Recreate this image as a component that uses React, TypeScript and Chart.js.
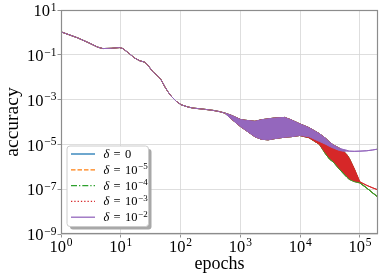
import React, { useEffect, useRef } from 'react';
import { Chart, registerables } from 'chart.js';

Chart.register(...registerables);

// ---------- data ----------
// shared early part of the training curve (all δ identical)
const earlyEpochs = [1, 1.9, 2.8, 4.1, 5, 6.9, 9.5, 10.8, 13, 17, 20.5, 25, 28, 34, 42, 47, 54, 61, 70, 85, 102, 132, 160, 250, 350, 450];
const earlyAcc = [1.06, 0.57, 0.36, 0.22, 0.19, 0.195, 0.21, 0.19, 0.13, 0.072, 0.055, 0.047, 0.036, 0.018, 0.011, 0.0078, 0.0039, 0.0023, 0.0014, 8.3e-4, 5.9e-4, 4.7e-4, 4.2e-4, 3.7e-4, 3.3e-4, 2.9e-4];

// oscillating phase: upper / lower envelopes
const bandEpochs = [550, 700, 1000, 1200, 1750, 2250, 2900, 3700, 5500, 7000, 9800, 14000, 21000, 27000, 31000, 36000, 45000, 52000, 60000, 66000, 80000, 100000, 130000, 160000, 200000];

// δ = 1e-2
const upperLarge = [2.5e-4, 2.0e-4, 1.3e-4, 1.2e-4, 1.07e-4, 1.26e-4, 1.38e-4, 1.5e-4, 1.6e-4, 1.26e-4, 8.3e-5, 5.6e-5, 3.0e-5, 1.8e-5, 1.26e-5, 9.3e-6, 6.8e-6, 6.0e-6, 5.5e-6, 5.0e-6, 4.9e-6, 5.0e-6, 5.2e-6, 5.6e-6, 6.2e-6];
const lowerLarge = [2.5e-4, 1.4e-4, 6.3e-5, 4.5e-5, 2.2e-5, 1.7e-5, 1.6e-5, 1.8e-5, 2.1e-5, 2.2e-5, 2.5e-5, 2.2e-5, 1.35e-5, 1.0e-5, 8.1e-6, 6.8e-6, 5.4e-6, 5.0e-6, 5.0e-6, 5.0e-6, 4.9e-6, 5.0e-6, 5.2e-6, 5.6e-6, 6.2e-6];

// δ = 1e-3
const upperMid = [2.5e-4, 2.0e-4, 1.3e-4, 1.2e-4, 1.07e-4, 1.26e-4, 1.38e-4, 1.5e-4, 1.6e-4, 1.26e-4, 8.3e-5, 5.6e-5, 3.0e-5, 1.8e-5, 1.26e-5, 9.3e-6, 6.8e-6, 5.2e-6, 3.5e-6, 2.4e-6, 8.5e-7, 2.1e-7, 1.48e-7, 1.17e-7, 9.3e-8];
const lowerMid = [2.5e-4, 1.4e-4, 6.3e-5, 4.5e-5, 2.2e-5, 1.7e-5, 1.6e-5, 1.8e-5, 2.1e-5, 2.2e-5, 2.5e-5, 2.0e-5, 1.0e-5, 4.0e-6, 2.5e-6, 1.8e-6, 8.9e-7, 6.0e-7, 4.0e-7, 3.0e-7, 2.4e-7, 2.1e-7, 1.48e-7, 1.17e-7, 9.3e-8];

// δ = 0, 1e-5, 1e-4 (overlapping)
const upperSmall = [2.5e-4, 2.0e-4, 1.3e-4, 1.2e-4, 1.07e-4, 1.26e-4, 1.38e-4, 1.5e-4, 1.6e-4, 1.26e-4, 8.3e-5, 5.6e-5, 3.0e-5, 1.8e-5, 1.26e-5, 9.3e-6, 6.8e-6, 5.2e-6, 3.5e-6, 2.4e-6, 7.9e-7, 1.9e-7, 1.12e-7, 7.1e-8, 4.4e-8];
const lowerSmall = [2.5e-4, 1.4e-4, 6.3e-5, 4.5e-5, 2.2e-5, 1.7e-5, 1.6e-5, 1.8e-5, 2.1e-5, 2.2e-5, 2.5e-5, 2.0e-5, 1.0e-5, 3.5e-6, 2.2e-6, 1.6e-6, 7.9e-7, 5.2e-7, 3.5e-7, 2.75e-7, 2.2e-7, 1.9e-7, 1.12e-7, 7.1e-8, 4.4e-8];

const deltaExponents: (number | null)[] = [null, -5, -4, -3, -2];
const seriesUpper = [upperSmall, upperSmall, upperSmall, upperMid, upperLarge];
const seriesLower = [lowerSmall, lowerSmall, lowerSmall, lowerMid, lowerLarge];

const xTickExponents = [0, 1, 2, 3, 4, 5];
const yTickExponents = [1, -1, -3, -5, -7, -9];

// ---------- styles ----------
const colors = ['#1f77b4', '#ff7f0e', '#2ca02c', '#d62728', '#9467bd'];
const legendDash = [[], [4.5, 2], [6, 2, 1.3, 2], [1.3, 2], []];
const SERIF = "'Liberation Serif', 'DejaVu Serif', serif";

function buildDatasets() {
  const ds: any[] = [];
  for (let i = 0; i < 5; i++) {
    const up = seriesUpper[i];
    const lo = seriesLower[i];
    const e = deltaExponents[i];
    ds.push({
      label: e === null ? 'δ = 0' : `δ = 10^${e}`,
      data: [
        ...earlyEpochs.map((x, j) => ({ x, y: earlyAcc[j] })),
        ...bandEpochs.map((x, j) => ({ x, y: up[j] })),
      ],
      borderColor: colors[i],
      borderWidth: 1,
      pointRadius: 0,
      fill: false,
      order: 4 - i,
    });
    ds.push({
      label: '',
      data: bandEpochs.map((x, j) => ({ x, y: lo[j] })),
      borderColor: colors[i],
      backgroundColor: colors[i],
      borderWidth: 1,
      pointRadius: 0,
      fill: '-1',
      order: 4 - i,
    });
  }
  return ds;
}

function expText(e: number) {
  return e < 0 ? '\u2212' + String(-e) : String(e);
}

function drawPower(ctx: CanvasRenderingContext2D, e: number, x: number, baseline: number, align: 'right' | 'center', big: number, small: number, raise: number) {
  const es = expText(e);
  ctx.font = `${big}px ${SERIF}`;
  const w1 = ctx.measureText('10').width;
  ctx.font = `${small}px ${SERIF}`;
  const w2 = ctx.measureText(es).width;
  const gap = 0.8;
  const total = w1 + gap + w2;
  const x0 = align === 'right' ? x - total : x - total / 2;
  ctx.textAlign = 'left';
  ctx.textBaseline = 'alphabetic';
  ctx.font = `${big}px ${SERIF}`;
  ctx.fillText('10', x0, baseline);
  ctx.font = `${small}px ${SERIF}`;
  ctx.fillText(es, x0 + w1 + gap, baseline - raise);
}

function roundRect(ctx: CanvasRenderingContext2D, x: number, y: number, w: number, h: number, r: number) {
  ctx.beginPath();
  ctx.moveTo(x + r, y);
  ctx.lineTo(x + w - r, y);
  ctx.quadraticCurveTo(x + w, y, x + w, y + r);
  ctx.lineTo(x + w, y + h - r);
  ctx.quadraticCurveTo(x + w, y + h, x + w - r, y + h);
  ctx.lineTo(x + r, y + h);
  ctx.quadraticCurveTo(x, y + h, x, y + h - r);
  ctx.lineTo(x, y + r);
  ctx.quadraticCurveTo(x, y, x + r, y);
  ctx.closePath();
}

const decorPlugin = {
  id: 'decor',
  afterDraw(chart: any) {
    const { ctx, chartArea: ca, scales } = chart;
    ctx.save();
    // frame
    ctx.strokeStyle = '#8c8c8c';
    ctx.lineWidth = 1.2;
    ctx.strokeRect(ca.left + 0.5, ca.top + 0.5, ca.right - ca.left - 1, ca.bottom - ca.top - 1);

    ctx.fillStyle = '#000';
    // y tick labels
    for (const e of yTickExponents) {
      const y = scales.y.getPixelForValue(Math.pow(10, e));
      drawPower(ctx, e, ca.left - 4.5, y + 6.2, 'right', 16.5, 11.5, 5.5);
    }
    // x tick labels
    for (const e of xTickExponents) {
      const x = scales.x.getPixelForValue(Math.pow(10, e));
      drawPower(ctx, e, x, ca.bottom + 17.5, 'center', 16.5, 11.5, 5.5);
    }
    // axis titles
    ctx.font = `18px ${SERIF}`;
    ctx.textAlign = 'center';
    ctx.textBaseline = 'alphabetic';
    ctx.fillText('epochs', (ca.left + ca.right) / 2, ca.bottom + 35);
    ctx.save();
    ctx.translate(18, (ca.top + ca.bottom) / 2);
    ctx.rotate(-Math.PI / 2);
    ctx.font = `19.5px ${SERIF}`;
    ctx.fillText('accuracy', 0, 0);
    ctx.restore();

    // legend
    const bx = ca.left + 6;
    const bw = 81.5;
    const bh = 80.5;
    const by = ca.bottom - 7.5 - bh;
    ctx.fillStyle = '#a8a8a8';
    roundRect(ctx, bx + 3, by + 3, bw, bh, 3);
    ctx.fill();
    ctx.fillStyle = '#ffffff';
    roundRect(ctx, bx, by, bw, bh, 3);
    ctx.fill();
    ctx.strokeStyle = '#cccccc';
    ctx.lineWidth = 1;
    ctx.stroke();

    for (let i = 0; i < 5; i++) {
      const cy = by + 8 + i * 15.8;
      ctx.save();
      ctx.strokeStyle = colors[i];
      ctx.lineWidth = 1.3;
      ctx.setLineDash(legendDash[i]);
      ctx.beginPath();
      ctx.moveTo(bx + 4, cy);
      ctx.lineTo(bx + 28, cy);
      ctx.stroke();
      ctx.restore();

      ctx.fillStyle = '#000';
      ctx.textAlign = 'left';
      ctx.textBaseline = 'alphabetic';
      const base = cy + 4;
      ctx.font = `italic 12.5px ${SERIF}`;
      ctx.fillText('δ', bx + 36.5, base);
      ctx.font = `12.5px ${SERIF}`;
      ctx.fillText('=', bx + 46.5, base);
      const e = deltaExponents[i];
      if (e === null) {
        ctx.fillText('0', bx + 58, base);
      } else {
        const w1 = ctx.measureText('10').width;
        ctx.fillText('10', bx + 58, base);
        ctx.font = `9px ${SERIF}`;
        ctx.fillText(expText(e), bx + 58 + w1 + 0.6, base - 4.5);
      }
    }
    ctx.restore();
  },
};

export default function App() {
  const ref = useRef<HTMLCanvasElement>(null);
  useEffect(() => {
    const gridOpts = {
      color: '#d6d6d6',
      lineWidth: 0.8,
      drawTicks: true,
      tickLength: 3.5,
      tickColor: '#777777',
      tickWidth: 0.8,
    };
    const chart = new Chart(ref.current as HTMLCanvasElement, {
      type: 'line',
      data: { datasets: buildDatasets() },
      options: {
        animation: false,
        responsive: false,
        devicePixelRatio: 1,
        events: [],
        layout: { padding: { left: 0, right: 5, top: 10, bottom: 0 } },
        plugins: { legend: { display: false }, tooltip: { enabled: false } },
        elements: { line: { tension: 0 } },
        scales: {
          x: {
            type: 'logarithmic',
            min: 1,
            max: 2e5,
            afterBuildTicks: (s: any) => {
              s.ticks = xTickExponents.map((e) => ({ value: Math.pow(10, e) }));
            },
            afterFit: (s: any) => {
              s.height = 45;
            },
            ticks: { display: false },
            grid: gridOpts,
            border: { display: false },
          },
          y: {
            type: 'logarithmic',
            min: 1e-9,
            max: 10,
            afterBuildTicks: (s: any) => {
              s.ticks = yTickExponents.map((e) => ({ value: Math.pow(10, e) }));
            },
            afterFit: (s: any) => {
              s.width = 61;
            },
            ticks: { display: false },
            grid: gridOpts,
            border: { display: false },
          },
        },
      } as any,
      plugins: [decorPlugin],
    });
    return () => chart.destroy();
  }, []);
  return (
    <div style={{ position: 'fixed', left: 0, top: 0, width: 383, height: 279, background: '#fff' }}>
      <canvas ref={ref} width={383} height={279} style={{ display: 'block' }} />
    </div>
  );
}
